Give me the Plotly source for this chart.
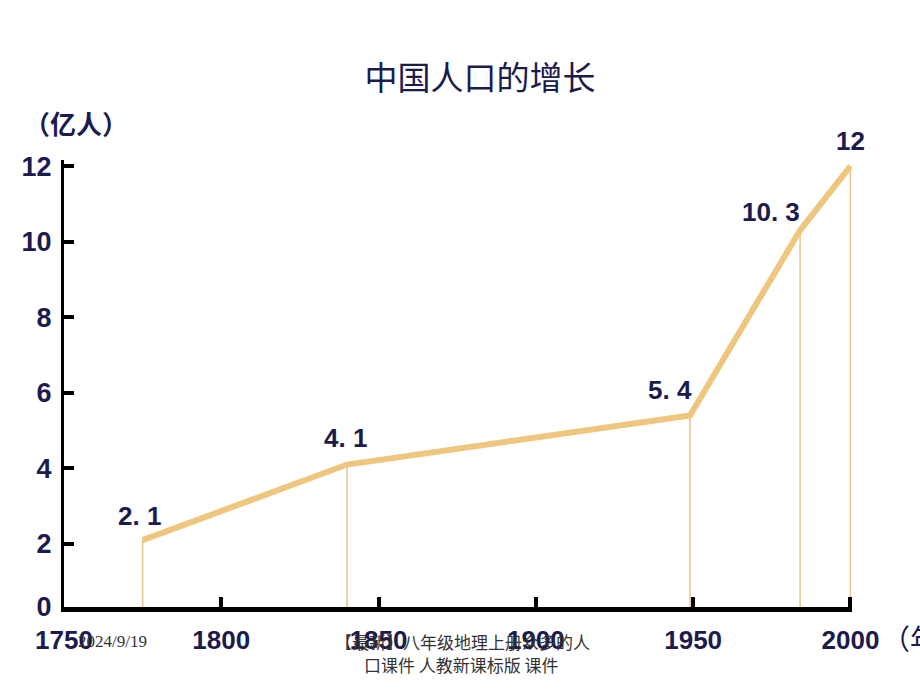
import plotly.graph_objects as go

# Data
years = [1775, 1840, 1949, 1984, 2000]
population = [2.1, 4.1, 5.4, 10.3, 12]
point_labels = ["2. 1", "4. 1", "5. 4", "10. 3", "12"]
x_ticks = [1750, 1800, 1850, 1900, 1950, 2000]
y_ticks = [0, 2, 4, 6, 8, 10, 12]

title_text = "中国人口的增长"
y_unit = "（亿人）"
x_unit = "（年）"
footer_date = "2024/9/19"
footer_line1 = "【最新】八年级地理上册众多的人"
footer_line2 = "口课件 人教新课标版 课件"

NAVY = "#1b1b4d"
LINE = "#efc67e"
DROP = "#e4c48e"
NUMFONT = "Liberation Sans, Arial, sans-serif"
CJK = "Noto Sans CJK SC, sans-serif"

Y_MIN = 0.33
Y_MAX = 12.16

fig = go.Figure()

# vertical drop lines from each point down to the x axis
dx, dy = [], []
for x, y in zip(years, population):
    dx += [x, x, None]
    dy += [y, Y_MIN, None]
fig.add_trace(go.Scatter(x=dx, y=dy, mode="lines",
                         line=dict(color=DROP, width=1.5),
                         hoverinfo="skip", showlegend=False))

# main line
fig.add_trace(go.Scatter(x=years, y=population, mode="lines",
                         line=dict(color=LINE, width=6),
                         showlegend=False))

# value labels
shifts = [(-3, 24), (-2, 27), (-20, 25), (-29, 18), (0, 25)]
for x, y, t, (sx, sy) in zip(years, population, point_labels, shifts):
    fig.add_annotation(x=x, y=y, text=t, showarrow=False,
                       xshift=sx, yshift=sy,
                       font=dict(family=NUMFONT, size=26, color=NAVY, weight="bold"))

# y tick positions: the "0" label sits at the axis baseline
y_tickvals = [Y_MIN if v == 0 else v for v in y_ticks]

fig.update_xaxes(range=[1750, 2000.5], tickvals=x_ticks,
                 ticktext=[str(v) for v in x_ticks],
                 showgrid=False, zeroline=False,
                 showline=True, linecolor="black", linewidth=5,
                 ticks="inside", ticklen=10, tickwidth=4, tickcolor="black",
                 ticklabelstandoff=6,
                 tickfont=dict(family=NUMFONT, size=26, color=NAVY, weight="bold"))
fig.update_yaxes(range=[Y_MIN, Y_MAX], tickvals=y_tickvals,
                 ticktext=[str(v) for v in y_ticks],
                 showgrid=False, zeroline=False,
                 showline=True, linecolor="black", linewidth=3,
                 ticks="inside", ticklen=10, tickwidth=4, tickcolor="black",
                 ticklabelstandoff=4,
                 tickfont=dict(family=NUMFONT, size=27, color=NAVY, weight="bold"))

# axis unit labels
fig.add_annotation(xref="paper", yref="paper", x=(22 - 64) / 788, y=1.083,
                   xanchor="left", yanchor="middle", text=y_unit, showarrow=False,
                   font=dict(family=CJK, size=26, color=NAVY, weight="bold"))
fig.add_annotation(xref="paper", yref="paper", x=(880 - 64) / 788, y=(607 - 638) / 447,
                   xanchor="left", yanchor="middle", text=x_unit, showarrow=False,
                   font=dict(family=CJK, size=28, color=NAVY))

# footer
fig.add_annotation(xref="paper", yref="paper", x=(112 - 64) / 788, y=(607 - 641) / 447,
                   xanchor="center", yanchor="middle", text=footer_date, showarrow=False,
                   font=dict(family="Liberation Serif, serif", size=17, color="#333333"))
fig.add_annotation(xref="paper", yref="paper", x=(462 - 64) / 788, y=(607 - 641) / 447,
                   xanchor="center", yanchor="middle", text=footer_line1, showarrow=False,
                   font=dict(family=CJK, size=17, color="#333333"))
fig.add_annotation(xref="paper", yref="paper", x=(461 - 64) / 788, y=(607 - 664) / 447,
                   xanchor="center", yanchor="middle", text=footer_line2, showarrow=False,
                   font=dict(family=CJK, size=17, color="#333333"))

fig.update_layout(
    width=920, height=690,
    margin=dict(l=64, r=68, t=160, b=83),
    paper_bgcolor="white", plot_bgcolor="white",
    title=dict(text=title_text, x=480 / 920, xanchor="center",
               y=1 - 78 / 690, yanchor="middle",
               font=dict(family=CJK, size=33, color=NAVY)),
)

fig.write_html("out.html")
